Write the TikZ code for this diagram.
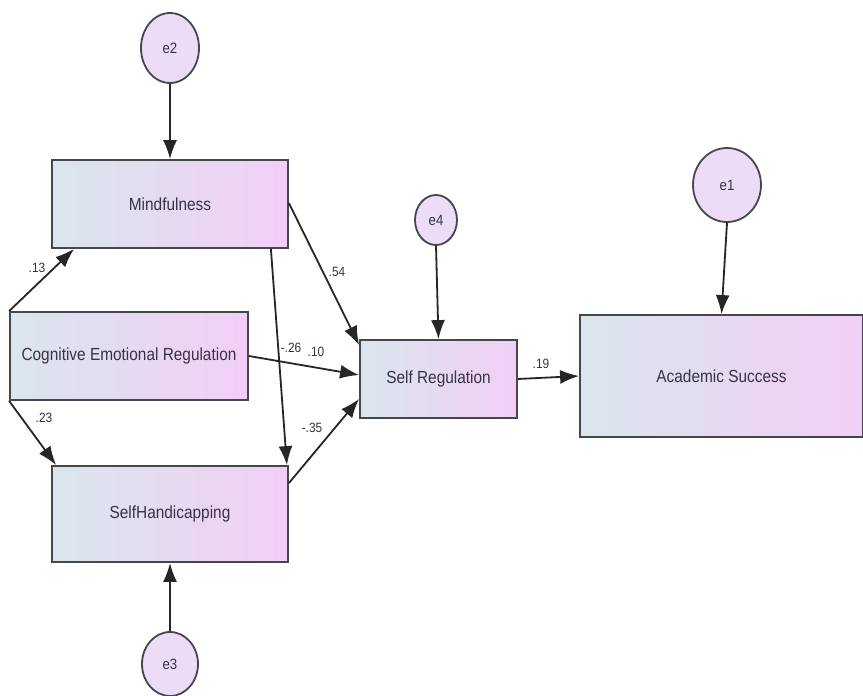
\documentclass[tikz,border=0pt]{standalone}
\usepackage{fontspec}
\setmainfont{Liberation Sans}
\usetikzlibrary{arrows.meta,shapes.geometric}
\definecolor{boxleft}{RGB}{218,230,236}
\definecolor{boxright}{RGB}{242,206,246}
\definecolor{errfill}{RGB}{236,220,246}
\definecolor{edge}{RGB}{70,70,78}
\definecolor{txt}{RGB}{55,50,70}
\newcommand{\sqz}[1]{\scalebox{0.88}[1]{#1}}
\tikzset{
  varbox/.style={draw=edge, line width=1.8pt, left color=boxleft, right color=boxright,
    text=txt, font=\fontsize{17.5}{20}\selectfont, inner sep=0pt},
  errnode/.style={ellipse, draw=edge, line width=1.8pt, fill=errfill, text=txt,
    font=\fontsize{15}{17}\selectfont, inner sep=0pt},
  path/.style={draw=black!85, line width=1.8pt, -{Latex[length=19pt,width=14pt]}},
  coef/.style={text=txt, font=\fontsize{13.5}{15}\selectfont, inner sep=1pt}
}
\begin{document}
\begin{tikzpicture}[x=1pt,y=-1pt]
\useasboundingbox (0,0) rectangle (863,696);
\fill[white] (0,0) rectangle (863,696);
% boxes
\node[varbox, minimum width=236pt, minimum height=88pt] (mind) at (170,204) {\sqz{Mindfulness}};
\node[varbox, minimum width=238pt, minimum height=88pt] (cer) at (129,356) {\sqz{Cognitive Emotional Regulation}};
\node[varbox, minimum width=236pt, minimum height=96pt] (sh) at (170,514) {\sqz{SelfHandicapping}};
\node[varbox, minimum width=157pt, minimum height=78pt] (sr) at (438.5,379) {\sqz{Self Regulation}};
\node[varbox, minimum width=283pt, minimum height=122pt] (as) at (721.5,376) {\sqz{Academic Success}};
% error terms
\node[errnode, minimum width=58pt, minimum height=70pt] (e2) at (170,48) {\sqz{e2}};
\node[errnode, minimum width=56pt, minimum height=64pt] (e3) at (170,664) {\sqz{e3}};
\node[errnode, minimum width=42pt, minimum height=50pt] (e4) at (436,220) {\sqz{e4}};
\node[errnode, minimum width=68pt, minimum height=74pt] (e1) at (727,185) {\sqz{e1}};
% error arrows
\draw[path] (e2.south) -- (mind.north);
\draw[path] (e3.north) -- (sh.south);
\draw[path] (e4.south) -- (sr.north);
\draw[path] (e1.south) -- (as.north);
% structural paths
\draw[path] (cer.north west) -- ([xshift=23pt]mind.south west);
\draw[path] (cer.south west) -- ([xshift=5pt]sh.north west);
\draw[path] ([yshift=-44pt]mind.north east) -- ([yshift=-6pt]sr.north west);
\draw[path] ([xshift=-18pt]mind.south east) -- ([xshift=-2pt]sh.north east);
\draw[path] (cer.east) -- ([yshift=4pt]sr.west);
\draw[path] ([yshift=-18pt]sh.north east) -- ([yshift=20pt]sr.south west);
\draw[path] (sr.east) -- (as.west);
% coefficients
\node[coef] (c13) at (37,268) {\sqz{.13}};
\node[coef] (c23) at (44,418) {\sqz{.23}};
\node[coef] (c54) at (337,272) {\sqz{.54}};
\node[coef] (c26) at (291,348) {\sqz{-.26}};
\node[coef] (c10) at (316,352) {\sqz{.10}};
\node[coef] (c35) at (312,428) {\sqz{-.35}};
\node[coef] (c19) at (541,364) {\sqz{.19}};
\end{tikzpicture}
\end{document}
